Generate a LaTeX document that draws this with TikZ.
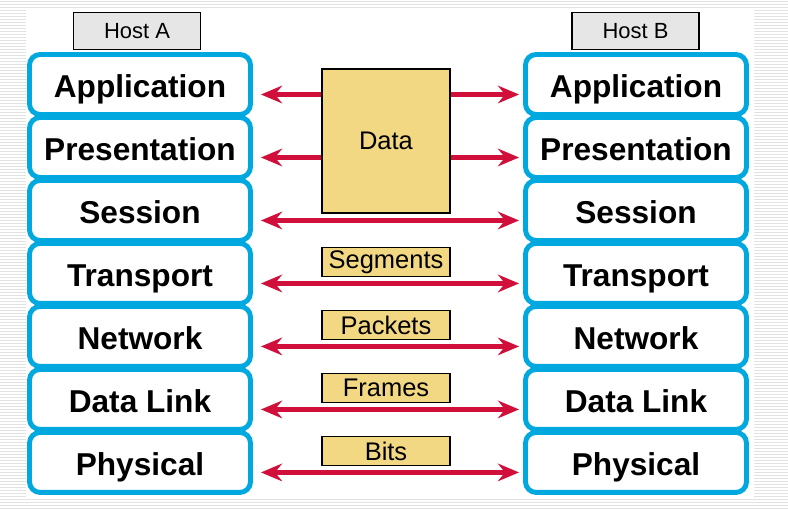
\documentclass[tikz,border=0pt]{standalone}
\usepackage{fontspec}
\setmainfont{Liberation Sans}
\usetikzlibrary{arrows.meta, positioning}
\definecolor{layerblue}{RGB}{0,168,224}
\definecolor{pdured}{RGB}{208,16,58}
\definecolor{pdugold}{RGB}{242,216,130}
\definecolor{hostgray}{RGB}{230,230,230}
\definecolor{stripegray}{RGB}{226,226,226}

\begin{document}
\begin{tikzpicture}[x=0.02cm, y=0.02cm,
  layer/.style={draw=layerblue, line width=2.8pt, rounded corners=6pt, fill=white,
    minimum width=4.42cm, minimum height=1.2cm, inner sep=0pt,
    text height=14.6pt, text depth=0pt,
    font=\fontsize{18}{18}\selectfont\bfseries},
  host/.style={draw=black, line width=0.8pt, fill=hostgray,
    minimum width=2.54cm, minimum height=0.74cm, inner sep=0pt,
    font=\fontsize{12.5}{12.5}\selectfont},
  pdu/.style={draw=black, line width=0.8pt, fill=pdugold,
    minimum width=2.56cm, minimum height=0.58cm, inner sep=0pt,
    font=\fontsize{14.5}{14.5}\selectfont},
  pduarrow/.style={draw=pdured, line width=2.8pt,
    {Stealth[length=12pt, width=10pt, inset=4pt]}-{Stealth[length=12pt, width=10pt, inset=4pt]}},
  halfarrow/.style={draw=pdured, line width=2.8pt,
    -{Stealth[length=12pt, width=10pt, inset=4pt]}}]

% SHARED CODE
\newlength{\ydist}
\setlength{\ydist}{1.26cm}
\useasboundingbox (0,0) rectangle (788,-508);
% background
\foreach \s in {1,4,...,508} {
\draw[stripegray, line width=0.5pt] (0,-\s) -- (788,-\s);
}
\fill[white] (26,-8) rectangle (754,-498);

% HOSTS
\node[host] (HA) at (137,-31) {Host A};
\node[host] (HB) at (635.5,-31) {Host B};

% LAYERS
\path (140,-21.5) foreach \j/\lname in {1/Application,2/Presentation,3/Session,4/Transport,5/Network,6/Data Link,7/Physical} {
++(0,-\ydist) node[layer] (L\j) {\lname}
};
\path (636,-21.5) foreach \j/\lname in {1/Application,2/Presentation,3/Session,4/Transport,5/Network,6/Data Link,7/Physical} {
++(0,-\ydist) node[layer] (R\j) {\lname}
};
% arrow ends
\foreach \j in {1,...,7} {
\coordinate (aL\j) at ([shift={(8,-10)}]L\j.east);
\coordinate (aR\j) at ([shift={(-4,-10)}]R\j.west);
}

% PDUs
\node[pdu, minimum height=2.88cm] (Data) at (386,-141) {Data};
\path (386,-199) foreach \j/\pname in {4/Segments,5/Packets,6/Frames,7/Bits} {
++(0,-\ydist) node[pdu] (P\j) {\pname}
};

% EDGES
\foreach \j in {1,2} {
\draw[halfarrow] (Data.west |- aL\j) -- (aL\j);
\draw[halfarrow] (Data.east |- aR\j) -- (aR\j);
}
\foreach \j in {3,...,7} {
\draw[pduarrow] (aL\j) -- (aR\j);
}

\end{tikzpicture}
\end{document}
